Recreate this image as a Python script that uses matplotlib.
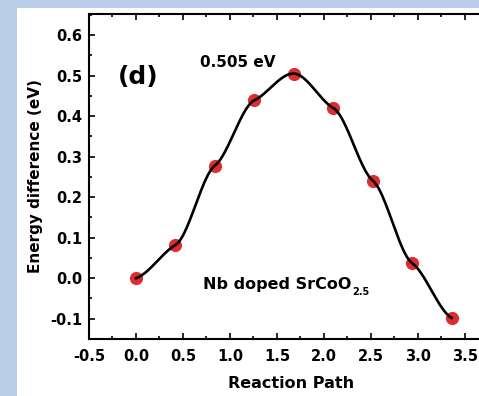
import numpy as np
import matplotlib
matplotlib.use("Agg")
import matplotlib.pyplot as plt
from matplotlib.patches import Rectangle
from matplotlib.ticker import MultipleLocator

# data (NEB path, Nb doped SrCoO2.5)
path_x = [0.0, 0.42, 0.84, 1.26, 1.68, 2.10, 2.52, 2.94, 3.36]
energy = [0.0, 0.082, 0.278, 0.439, 0.505, 0.420, 0.241, 0.037, -0.098]
x_ticks = [-0.5, 0.0, 0.5, 1.0, 1.5, 2.0, 2.5, 3.0, 3.5]
y_ticks = [-0.1, 0.0, 0.1, 0.2, 0.3, 0.4, 0.5, 0.6]
barrier_label = "0.505 eV"
panel_label = "(d)"


def hermite_curve(xs, ys, n=40, damp=0.4):
    """Cubic Hermite through the points, tangents damped like the Origin NEB plot."""
    xs = np.asarray(xs, float)
    ys = np.asarray(ys, float)
    m = np.gradient(ys, xs) * damp
    cx, cy = [], []
    for i in range(len(xs) - 1):
        h = xs[i + 1] - xs[i]
        t = np.linspace(0, 1, n, endpoint=False)
        h00 = 2 * t**3 - 3 * t**2 + 1
        h10 = t**3 - 2 * t**2 + t
        h01 = -2 * t**3 + 3 * t**2
        h11 = t**3 - t**2
        cx.append(xs[i] + t * h)
        cy.append(h00 * ys[i] + h10 * h * m[i] + h01 * ys[i + 1] + h11 * h * m[i + 1])
    cx.append([xs[-1]])
    cy.append([ys[-1]])
    return np.concatenate(cx), np.concatenate(cy)


plt.rcParams['font.family'] = ['DejaVu Sans']
plt.rcParams['font.weight'] = 'bold'

fig = plt.figure(figsize=(4.79, 3.96), dpi=100, facecolor='#b9cde6')
# white slide area, blue strip on the left and top
fig.add_artist(Rectangle((17 / 479, 0), 1, (396 - 8) / 396,
                         transform=fig.transFigure, facecolor='white',
                         edgecolor='none', zorder=0))

ax = fig.add_axes([89 / 479, 57 / 396, 404 / 479, 325 / 396])
ax.set_facecolor('white')

cx, cy = hermite_curve(path_x, energy)
ax.plot(path_x, energy, 'o', color='#d91c1c', markersize=9.5, alpha=0.92,
        markeredgewidth=0, zorder=2)
ax.plot(cx, cy, color='black', linewidth=1.9, zorder=3)

ax.set_xlim(-0.5, 3.8)
ax.set_ylim(-0.15, 0.652)
ax.set_xticks(x_ticks)
ax.set_yticks(y_ticks)
ax.set_xticklabels([f"{v:.1f}" for v in x_ticks])
ax.set_yticklabels([f"{v:.1f}" for v in y_ticks])
ax.xaxis.set_minor_locator(MultipleLocator(0.25))
ax.yaxis.set_minor_locator(MultipleLocator(0.05))
ax.tick_params(which='both', direction='in', top=True, right=True, width=1.2)
ax.tick_params(which='major', length=4, labelsize=10.5)
ax.tick_params(axis='x', which='major', pad=7)
ax.tick_params(axis='y', which='major', pad=5)
ax.tick_params(which='minor', length=2.5)
for s in ax.spines.values():
    s.set_linewidth(1.5)

ax.set_xlabel("Reaction Path", fontsize=11.5, fontweight='bold', labelpad=9)
ax.set_ylabel("Energy difference (eV)", fontsize=11, fontweight='bold', labelpad=5)

ax.text(-0.19, 0.497, panel_label, fontsize=18, fontweight='bold', va='center')
ax.text(0.68, 0.521, barrier_label, fontsize=11, fontweight='bold', va='baseline')
ax.text(0.716, -0.016, "Nb doped SrCoO", fontsize=11.5,
        fontweight='bold', va='center')
ax.text(2.30, -0.034, "2.5", fontsize=7, fontweight='bold', va='center')

fig.savefig("out.png", dpi=100, facecolor=fig.get_facecolor())
